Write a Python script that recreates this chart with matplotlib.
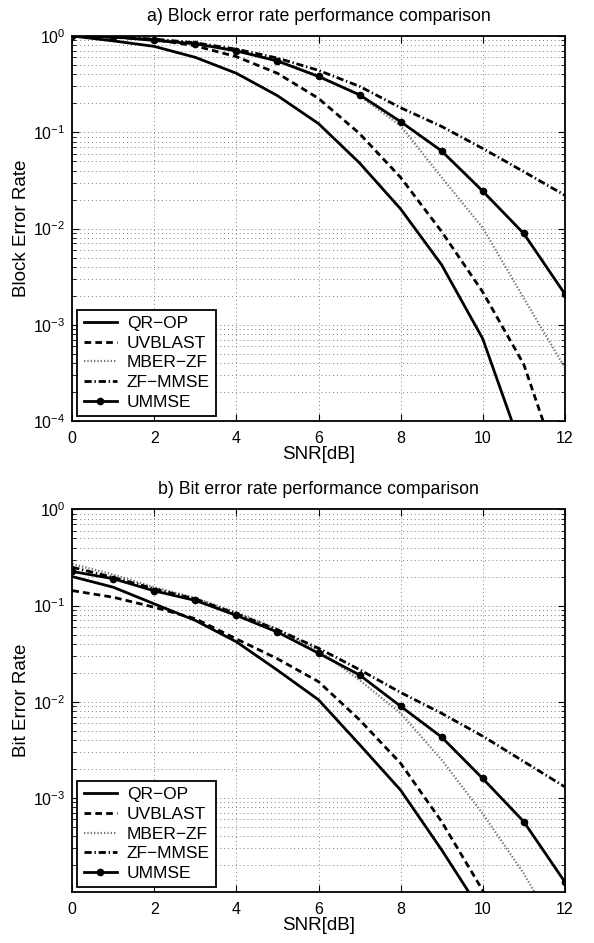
import numpy as np
import matplotlib
matplotlib.use('Agg')
import matplotlib.pyplot as plt
from matplotlib.ticker import LogLocator, NullFormatter

plt.rcParams['font.family'] = ['Liberation Sans', 'DejaVu Sans']
plt.rcParams['font.size'] = 11.5
plt.rcParams['axes.unicode_minus'] = True

# SNR axis (dB)
snr = np.arange(0, 13)

# a) block error rate
qrop_bler = [1.0, 0.89, 0.78, 0.60, 0.41, 0.24, 0.123, 0.048, 0.016, 0.0042, 7.2e-4, 4.5e-5, 2e-6]
uvblast_bler = [1.0, 0.97, 0.92, 0.79, 0.61, 0.41, 0.225, 0.097, 0.034, 0.0093, 0.0022, 3.9e-4, 2.2e-5]
mberzf_bler = [1.0, 0.98, 0.92, 0.84, 0.71, 0.56, 0.39, 0.24, 0.117, 0.034, 0.0102, 0.0019, 3.6e-4]
zfmmse_bler = [1.0, 0.98, 0.93, 0.85, 0.73, 0.59, 0.44, 0.30, 0.18, 0.115, 0.068, 0.039, 0.0222]
ummse_bler = [1.0, 0.98, 0.90, 0.83, 0.70, 0.55, 0.38, 0.245, 0.129, 0.064, 0.0245, 0.0089, 0.0021]

# b) bit error rate
qrop_ber = [0.2, 0.155, 0.104, 0.07, 0.042, 0.0213, 0.0105, 0.0036, 0.00121, 2.9e-4, 6.3e-5, 1e-5, 1e-6]
uvblast_ber = [0.143, 0.122, 0.096, 0.073, 0.045, 0.028, 0.0162, 0.0065, 0.0023, 5.7e-4, 1.1e-4, 1.5e-5, 1e-6]
mberzf_ber = [0.27, 0.21, 0.155, 0.12, 0.085, 0.057, 0.034, 0.0168, 0.0076, 0.0025, 6.9e-4, 1.65e-4, 3e-5]
zfmmse_ber = [0.25, 0.196, 0.149, 0.117, 0.082, 0.056, 0.036, 0.0216, 0.0125, 0.0076, 0.0044, 0.0024, 0.00131]
ummse_ber = [0.226, 0.19, 0.142, 0.113, 0.079, 0.053, 0.032, 0.019, 0.009, 0.0043, 0.0016, 0.00057, 1.35e-4]

labels = ['QR\u2212OP', 'UVBLAST', 'MBER\u2212ZF', 'ZF\u2212MMSE', 'UMMSE']


def draw(ax, series, title, ylabel, yticks):
    qr, uv, mb, zf, um = series
    ax.plot(snr, qr, color='k', lw=2, label=labels[0])
    ax.plot(snr, uv, color='k', lw=2, dashes=(2.4, 1.5), label=labels[1])
    ax.plot(snr, mb, color='0.45', lw=1.6, dashes=(0.6, 0.9), label=labels[2])
    ax.plot(snr, zf, color='k', lw=2, dashes=(2.6, 1.0, 0.5, 1.0), label=labels[3])
    ax.plot(snr, um, color='k', lw=2, marker='o', ms=4.5, label=labels[4])

    ax.set_yscale('log')
    ax.set_xlim(0, 12)
    ax.set_ylim(1.05e-4, 1)
    ax.set_xticks(np.arange(0, 13, 2))
    ax.set_yticks(yticks)
    ax.yaxis.set_minor_locator(LogLocator(base=10, subs=np.arange(2, 10)))
    ax.yaxis.set_minor_formatter(NullFormatter())

    # dotted MATLAB-like grid, minor lines only on the log axis
    grid_kw = dict(ls=(0, (1, 3)), color='0.5', lw=0.7)
    ax.grid(True, which='major', axis='both', **grid_kw)
    ax.grid(True, which='minor', axis='y', **grid_kw)
    ax.tick_params(which='both', direction='in', top=True, right=True)
    ax.tick_params(which='major', length=5)
    ax.tick_params(axis='x', which='major', pad=7)
    ax.tick_params(axis='y', which='major', pad=5)
    ax.tick_params(which='minor', length=3)
    for s in ax.spines.values():
        s.set_linewidth(1.3)

    ax.set_title(title, fontsize=12.8, pad=11)
    ax.set_xlabel('SNR[dB]', fontsize=13.5, labelpad=0)
    ax.set_ylabel(ylabel, fontsize=13.5, labelpad=2)

    leg = ax.legend(loc='lower left', fancybox=False, edgecolor='k', framealpha=1,
                    fontsize=12.5, handlelength=1.9, borderaxespad=0.3,
                    labelspacing=0.26, handletextpad=0.6, borderpad=0.35)
    leg.get_frame().set_linewidth(1.3)


fig = plt.figure(figsize=(5.94, 9.43), dpi=100)
ax1 = fig.add_axes([0.1217, 0.5535, 0.829, 0.4083])
ax2 = fig.add_axes([0.1217, 0.0538, 0.829, 0.4061])

draw(ax1, (qrop_bler, uvblast_bler, mberzf_bler, zfmmse_bler, ummse_bler),
     'a) Block error rate performance comparison', 'Block Error Rate',
     [1e-4, 1e-3, 1e-2, 1e-1, 1e0])
draw(ax2, (qrop_ber, uvblast_ber, mberzf_ber, zfmmse_ber, ummse_ber),
     'b) Bit error rate performance comparison', 'Bit Error Rate',
     [1e-3, 1e-2, 1e-1, 1e0])

fig.savefig('out.png', dpi=100)
